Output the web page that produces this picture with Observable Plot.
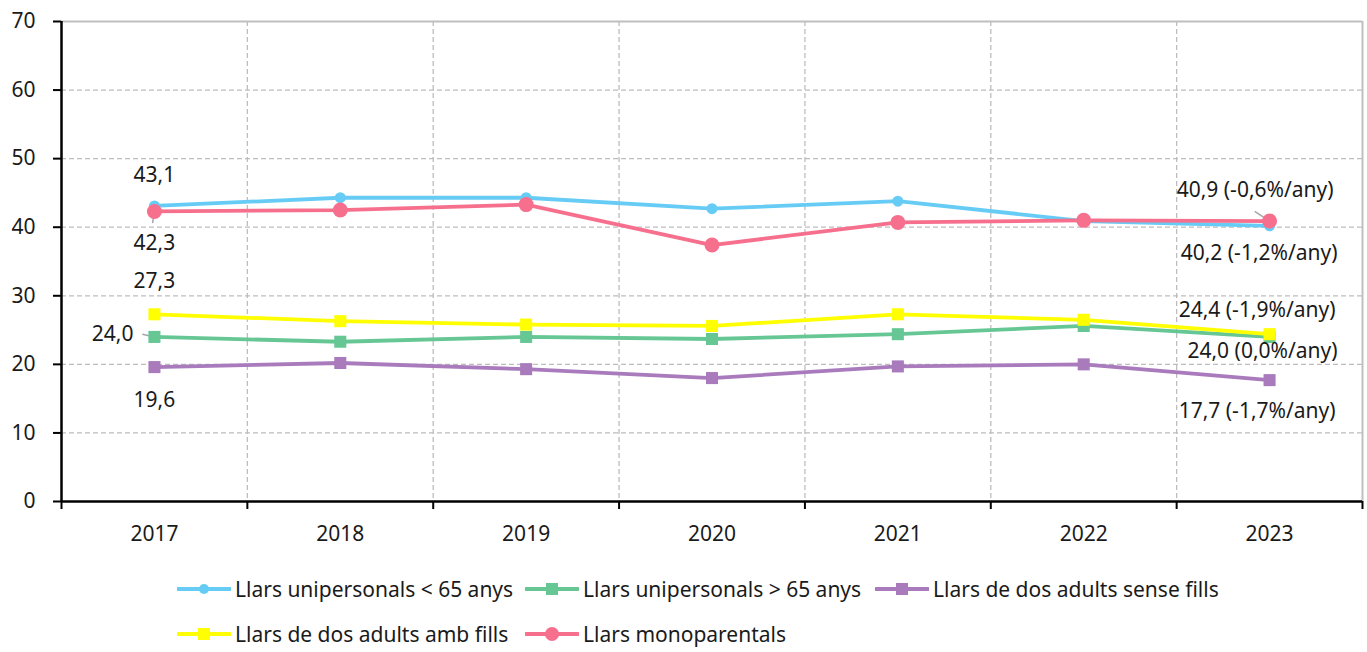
<!DOCTYPE html>
<html>
<head>
<meta charset="utf-8">
<script src="https://cdn.jsdelivr.net/npm/d3@7"></script>
<script src="https://cdn.jsdelivr.net/npm/@observablehq/plot@0.6"></script>
<style>
  html, body { margin: 0; padding: 0; background: #fff; }
  #wrap { position: relative; width: 1367px; height: 652px; font-family: "Noto Sans", sans-serif; color: #1a1a1a; }
  .leg { position: absolute; display: flex; align-items: center; font-size: 21px; white-space: nowrap; }
  .leg svg { margin-right: 4px; }
</style>
</head>
<body>
<div id="wrap"></div>
<script>
// ---------- DATA ----------
const years = [2017, 2018, 2019, 2020, 2021, 2022, 2023];
const seriesNames = [
  "Llars unipersonals < 65 anys",
  "Llars unipersonals > 65 anys",
  "Llars de dos adults sense fills",
  "Llars de dos adults amb fills",
  "Llars monoparentals"
];
const unipersonalsMenys65 = [43.1, 44.3, 44.3, 42.7, 43.8, 40.9, 40.2];
const unipersonalsMes65   = [24.0, 23.3, 24.0, 23.7, 24.4, 25.6, 24.0];
const dosAdultsSenseFills = [19.6, 20.2, 19.3, 18.0, 19.7, 20.0, 17.7];
const dosAdultsAmbFills   = [27.3, 26.3, 25.8, 25.6, 27.3, 26.5, 24.4];
const monoparentals       = [42.3, 42.5, 43.3, 37.4, 40.7, 41.0, 40.9];
const annualGrowth = ["-1,2", "0,0", "-1,7", "-1,9", "-0,6"]; // %/any
const yTicks = [0, 10, 20, 30, 40, 50, 60, 70];

// ---------- STYLE ----------
const FS = 21;
const colors = ["#66CCF5", "#66C795", "#A97BBD", "#FFFF00", "#F6708E"];
const symbols = ["circle", "square", "square", "square", "circle"];
const radii = [5.5, 6.8, 6.8, 6.8, 7.5];
const firstLbl = [
  {dx: 0, dy: -31, anchor: "middle"},
  {dx: -21, dy: -3, anchor: "end"},
  {dx: 0, dy: 33, anchor: "middle"},
  {dx: 0, dy: -33, anchor: "middle"},
  {dx: 0, dy: 32, anchor: "middle"}
];
const lastLbl = [
  {dx: 68, dy: 27},
  {dx: 68, dy: 14},
  {dx: 66, dy: 31},
  {dx: 66, dy: -24},
  {dx: 64, dy: -31}
];

const allValues = [unipersonalsMenys65, unipersonalsMes65, dosAdultsSenseFills, dosAdultsAmbFills, monoparentals];
const fmt = v => v.toFixed(1).replace(".", ",");
const data = allValues.map((vals, i) => years.map((yr, j) => ({year: yr, value: vals[j], series: seriesNames[i]})));
const boundaries = years.map(y => y - 0.5).concat([years[years.length - 1] + 0.5]);
const innerBounds = boundaries.slice(1, -1);
const gridYTicks = yTicks.slice(1, -1);

const marks = [
  Plot.gridY(gridYTicks, {stroke: "#bdbdbd", strokeOpacity: 1, strokeWidth: 1.3, strokeDasharray: "5,3"}),
  Plot.gridX(innerBounds, {stroke: "#bdbdbd", strokeOpacity: 1, strokeWidth: 1.3, strokeDasharray: "5,3"}),
  Plot.ruleY([yTicks[yTicks.length - 1]], {stroke: "#bfbfbf", strokeWidth: 2}),
  Plot.ruleX([boundaries[boundaries.length - 1]], {stroke: "#bfbfbf", strokeWidth: 2}),
  Plot.ruleY([0], {stroke: "#000", strokeWidth: 2.5}),
  Plot.ruleX([boundaries[0]], {stroke: "#000", strokeWidth: 2.5}),
  Plot.axisY({ticks: yTicks, tickSize: 8, tickPadding: 18, stroke: "#000", strokeWidth: 2, label: null, fontSize: FS, fill: "#1a1a1a"}),
  Plot.axisX({ticks: boundaries, tickSize: 8, tickFormat: () => "", stroke: "#000", strokeWidth: 2, label: null}),
  Plot.axisX({ticks: years, tickSize: 0, tickPadding: 25, tickFormat: d => String(d), label: null, fontSize: FS, fill: "#1a1a1a"})
];

const lead = (d, ddx, ddy) => ({x1: d.year, y1: d.value, x2: d.year + ddx, y2: d.value + ddy});
const leaders = [
  lead(data[4][0], -0.01, -1.7),
  lead(data[1][0], -0.065, 0.4),
  lead(data[4][6], -0.08, 1.4)
];
marks.push(Plot.link(leaders, {x1: "x1", y1: "y1", x2: "x2", y2: "y2", stroke: "#a6a6a6", strokeWidth: 1.5}));

data.forEach((d, i) => {
  marks.push(Plot.line(d, {x: "year", y: "value", stroke: colors[i], strokeWidth: 3.8}));
  marks.push(Plot.dot(d, {x: "year", y: "value", fill: colors[i], stroke: "none", symbol: symbols[i], r: radii[i]}));
});

data.forEach((d, i) => {
  const f = firstLbl[i], l = lastLbl[i];
  marks.push(Plot.text([d[0]], {x: "year", y: "value", text: r => fmt(r.value), dx: f.dx, dy: f.dy, textAnchor: f.anchor, fontSize: FS, fill: "#1a1a1a"}));
  marks.push(Plot.text([d[d.length - 1]], {x: "year", y: "value", text: r => `${fmt(r.value)} (${annualGrowth[i]}%/any)`, dx: l.dx, dy: l.dy, textAnchor: "end", fontSize: FS, fill: "#1a1a1a"}));
});

const chart = Plot.plot({
  width: 1367,
  height: 560,
  marginLeft: 61,
  marginRight: 5,
  marginTop: 21,
  marginBottom: 59,
  x: {domain: [boundaries[0], boundaries[boundaries.length - 1]]},
  y: {domain: [yTicks[0], yTicks[yTicks.length - 1]]},
  style: {fontFamily: "'Noto Sans', sans-serif", fontSize: FS + "px", color: "#1a1a1a", background: "#fff", overflow: "visible"},
  marks
});
const wrap = document.getElementById("wrap");
wrap.appendChild(chart);

const legPos = [[177, 589], [525, 589], [875, 589], [177, 634], [525, 634]];
seriesNames.forEach((name, i) => {
  const div = document.createElement("div");
  div.className = "leg";
  div.style.left = legPos[i][0] + "px";
  div.style.top = (legPos[i][1] - 14) + "px";
  div.style.height = "28px";
  const mk = symbols[i] === "circle"
    ? `<circle cx="27" cy="14" r="${radii[i] - 0.5}" fill="${colors[i]}"/>`
    : `<rect x="21" y="8" width="12" height="12" fill="${colors[i]}"/>`;
  div.innerHTML = `<svg width="54" height="28"><line x1="1" y1="14" x2="53" y2="14" stroke="${colors[i]}" stroke-width="3.8" stroke-linecap="round"/>${mk}</svg><span>${name}</span>`;
  wrap.appendChild(div);
});
</script>
</body>
</html>
